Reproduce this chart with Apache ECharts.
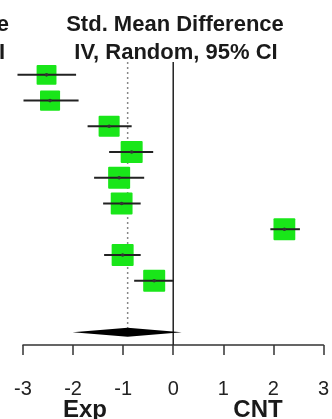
<!DOCTYPE html>
<html>
<head>
<meta charset="utf-8">
<script src="https://cdn.jsdelivr.net/npm/echarts@6/dist/echarts.min.js"></script>
<style>
  html, body { margin: 0; padding: 0; background: #fff; }
  #main { width: 332px; height: 419px; }
</style>
</head>
<body>
<div id="main"></div>
<script>
    // study rows (1..9), effect estimates with 95% CI
    var rows = [1, 2, 3, 4, 5, 6, 7, 8, 9];
    var smd = [-2.53, -2.46, -1.28, -0.83, -1.08, -1.03, 2.22, -1.01, -0.38];
    var ciLow = [-3.11, -2.99, -1.71, -1.28, -1.58, -1.40, 1.94, -1.38, -0.78];
    var ciHigh = [-1.94, -1.89, -0.83, -0.40, -0.58, -0.65, 2.53, -0.65, 0.01];
    var weights = [10.3, 10.4, 10.9, 11.4, 11.4, 11.3, 11.3, 11.4, 11.4];

    // pooled estimate (diamond) on row 11
    var pooledRow = 11;
    var pooled = { est: -0.91, low: -2.01, high: 0.17 };

    var xTicks = [-3, -2, -1, 0, 1, 2, 3];

    var chart = echarts.init(document.getElementById('main'));

    var studyData = rows.map(function (r, i) {
        return [smd[i], r, ciLow[i], ciHigh[i], weights[i]];
    });

    var boldFont = function (size) {
        return 'bold ' + size + 'px "Liberation Sans"';
    };

    var option = {
        backgroundColor: '#fff',
        animation: false,
        grid: { left: 23, right: 7, top: 62, height: 283 },
        xAxis: {
            type: 'value',
            min: xTicks[0],
            max: xTicks[xTicks.length - 1],
            interval: 1,
            splitLine: { show: false },
            axisLine: { onZero: false, lineStyle: { color: '#333', width: 1.5 } },
            axisTick: { show: true, length: 10, lineStyle: { color: '#333', width: 1.5 } },
            axisLabel: { margin: 34, fontSize: 20, color: '#222', fontFamily: 'Liberation Sans' }
        },
        yAxis: {
            type: 'value',
            inverse: true,
            min: 0.5,
            max: 11.5,
            show: false
        },
        graphic: [
            { type: 'text', x: 175, y: 25, style: { text: 'Std. Mean Difference', textAlign: 'center', textVerticalAlign: 'middle', font: boldFont(22), fill: '#1a1a1a' } },
            { type: 'text', x: 176, y: 53, style: { text: 'IV, Random, 95% CI', textAlign: 'center', textVerticalAlign: 'middle', font: boldFont(22), fill: '#1a1a1a' } },
            { type: 'text', x: 9, y: 25, style: { text: 'Difference', textAlign: 'right', textVerticalAlign: 'middle', font: boldFont(22), fill: '#1a1a1a' } },
            { type: 'text', x: 5, y: 53, style: { text: '95% CI', textAlign: 'right', textVerticalAlign: 'middle', font: boldFont(22), fill: '#1a1a1a' } },
            { type: 'text', x: 85, y: 410, style: { text: 'Exp', textAlign: 'center', textVerticalAlign: 'middle', font: boldFont(24), fill: '#1a1a1a' } },
            { type: 'text', x: 258, y: 410, style: { text: 'CNT', textAlign: 'center', textVerticalAlign: 'middle', font: boldFont(24), fill: '#1a1a1a' } }
        ],
        series: [
            {
                // reference lines: no effect (solid) and pooled estimate (dotted)
                type: 'custom',
                data: [[0, 0.5, 11.5, 0], [pooled.est, 0.5, pooledRow, 1]],
                renderItem: function (params, api) {
                    var top = api.coord([api.value(0), api.value(1)]);
                    var bot = api.coord([api.value(0), api.value(2)]);
                    var dotted = api.value(3) === 1;
                    return {
                        type: 'line',
                        shape: { x1: top[0], y1: top[1], x2: bot[0], y2: bot[1] },
                        style: dotted
                            ? { stroke: '#888', lineWidth: 1.5, lineDash: [2, 3] }
                            : { stroke: '#222', lineWidth: 1.5 }
                    };
                }
            },
            {
                type: 'custom',
                data: studyData,
                renderItem: function (params, api) {
                    var c = api.coord([api.value(0), api.value(1)]);
                    var lo = api.coord([api.value(2), api.value(1)]);
                    var hi = api.coord([api.value(3), api.value(1)]);
                    var s = api.value(4) * 1.93;
                    return {
                        type: 'group',
                        children: [
                            {
                                type: 'rect',
                                shape: { x: c[0] - s / 2, y: c[1] - s / 2, width: s, height: s, r: 1 },
                                style: { fill: '#19e619' }
                            },
                            {
                                type: 'line',
                                shape: { x1: lo[0], y1: c[1], x2: hi[0], y2: c[1] },
                                style: { stroke: '#222', lineWidth: 2 }
                            },
                            {
                                type: 'circle',
                                shape: { cx: c[0], cy: c[1], r: 1.8 },
                                style: { fill: '#333' }
                            }
                        ]
                    };
                }
            },
            {
                type: 'custom',
                data: [[pooled.est, pooledRow, pooled.low, pooled.high]],
                renderItem: function (params, api) {
                    var c = api.coord([api.value(0), api.value(1)]);
                    var lo = api.coord([api.value(2), api.value(1)]);
                    var hi = api.coord([api.value(3), api.value(1)]);
                    var h = 4.5;
                    return {
                        type: 'polygon',
                        shape: { points: [[lo[0], c[1]], [c[0], c[1] - h], [hi[0], c[1]], [c[0], c[1] + h]] },
                        style: { fill: '#000' }
                    };
                }
            }
        ]
    };
    chart.setOption(option);
</script>
</body>
</html>
